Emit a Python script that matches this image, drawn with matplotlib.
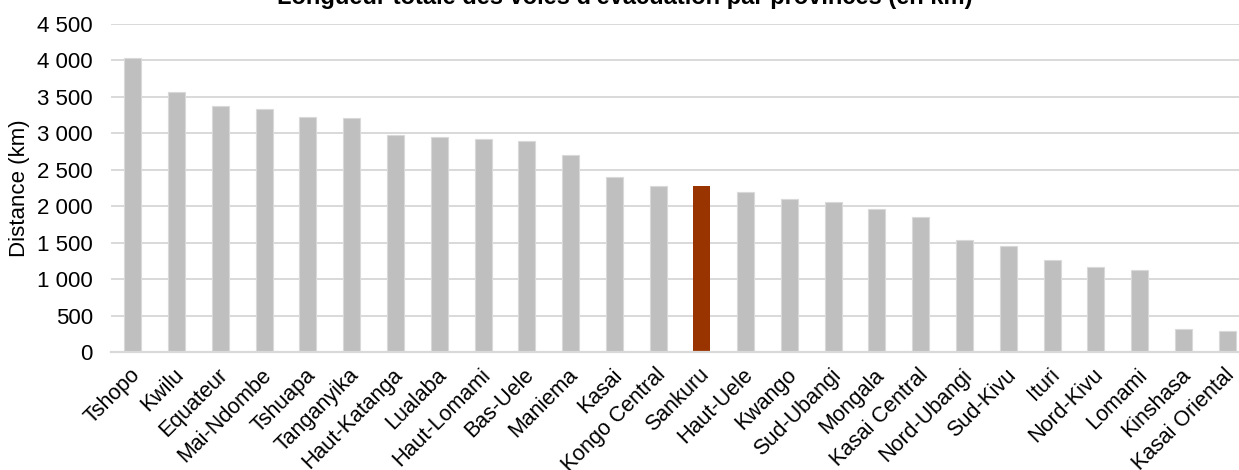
import matplotlib.pyplot as plt
import matplotlib.transforms as mtransforms
import numpy as np
from matplotlib.ticker import FuncFormatter

plt.rcParams['font.family'] = ['Liberation Sans', 'DejaVu Sans']

# data (km)
provinces = ["Tshopo", "Kwilu", "Equateur", "Mai-Ndombe", "Tshuapa", "Tanganyika",
             "Haut-Katanga", "Lualaba", "Haut-Lomami", "Bas-Uele", "Maniema", "Kasai",
             "Kongo Central", "Sankuru", "Haut-Uele", "Kwango", "Sud-Ubangi", "Mongala",
             "Kasai Central", "Nord-Ubangi", "Sud-Kivu", "Ituri", "Nord-Kivu", "Lomami",
             "Kinshasa", "Kasai Oriental"]
distance = [4030, 3565, 3380, 3340, 3228, 3205,
            2972, 2944, 2916, 2890, 2706, 2407,
            2275, 2272, 2196, 2100, 2063, 1967,
            1852, 1536, 1453, 1256, 1165, 1128,
            312, 290]
highlight = "Sankuru"

gray = "#BFBFBF"
red = "#993300"
grid_col = "#D9D9D9"

fig = plt.figure(figsize=(12.39, 4.70), dpi=100)
W, H = 1239, 470
# axes box in pixels: left 111, right 1249 (cut by the figure edge), top 24, bottom 352
ax = fig.add_axes([111 / W, 1 - 352 / H, (1249 - 111) / W, (352 - 24) / H])

x = np.arange(len(provinces))
colors = [red if p == highlight else gray for p in provinces]
edges = ["none" if p == highlight else grid_col for p in provinces]
ax.bar(x, distance, width=0.39, color=colors, edgecolor=edges, linewidth=0.8, zorder=3)

ax.set_xlim(-0.5, len(provinces) - 0.5)
ax.set_ylim(0, 4500)
ax.set_yticks(np.arange(0, 4501, 500))
ax.yaxis.set_major_formatter(FuncFormatter(lambda v, p: f"{int(v):,}".replace(",", " ")))
ax.yaxis.grid(True, color=grid_col, linewidth=1.4, zorder=0)
ax.set_axisbelow(True)

for s in ["top", "right", "left"]:
    ax.spines[s].set_visible(False)
ax.spines["bottom"].set_color(grid_col)
ax.spines["bottom"].set_linewidth(1.6)
ax.spines["bottom"].set_zorder(4)

ax.tick_params(axis="y", length=0, pad=13, labelsize=16, labelcolor="#000000")
ax.tick_params(axis="x", length=0, pad=9, labelsize=15.5)
ax.set_xticks(x)
ax.set_xticklabels(provinces, rotation=45, ha="right", rotation_mode="anchor")
shift = mtransforms.ScaledTranslation(-3 / 100, 0, fig.dpi_scale_trans)
for lab in ax.get_xticklabels():
    lab.set_transform(lab.get_transform() + shift)

fig.text(20 / W, 1 - 188 / H, "Distance (km)", rotation=90, ha="center", va="center",
         fontsize=16)
fig.text(625 / W, 1 - 4 / H, "Longueur totale des voies d'évacuation par provinces (en km)",
         ha="center", va="baseline", fontsize=17, fontweight="bold")

plt.savefig("out.png", dpi=100)
